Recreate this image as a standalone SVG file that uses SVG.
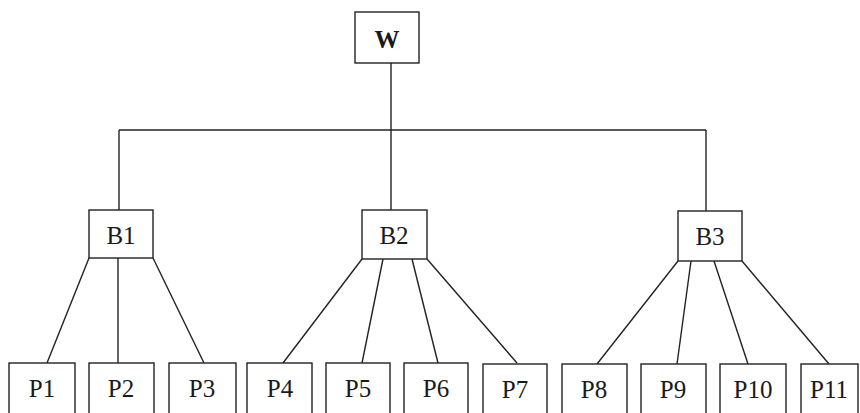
<svg xmlns="http://www.w3.org/2000/svg" width="860" height="413" viewBox="0 0 860 413">
<style>
rect{fill:#fff;stroke:#222;stroke-width:1.4}
line{stroke:#222;stroke-width:1.4}
text{font-family:"Liberation Serif","Times New Roman",serif;font-size:25px;fill:#1a1a1a;text-anchor:middle;dominant-baseline:central}
</style>
<rect x="0" y="0" width="860" height="413" style="fill:#fff;stroke:none"/>
<g id="connectors">
<line x1="391" y1="63" x2="391" y2="210"/>
<line x1="119" y1="130" x2="706" y2="130"/>
<line x1="119" y1="130" x2="119" y2="210"/>
<line x1="706" y1="130" x2="706" y2="211"/>
<line x1="89" y1="258" x2="47" y2="363"/>
<line x1="118" y1="258" x2="118" y2="363"/>
<line x1="153" y1="258" x2="204" y2="363"/>
<line x1="362" y1="259" x2="283" y2="363"/>
<line x1="383" y1="259" x2="362" y2="363"/>
<line x1="412" y1="259" x2="438" y2="363"/>
<line x1="427" y1="259" x2="517" y2="363"/>
<line x1="678" y1="261" x2="597" y2="364"/>
<line x1="691" y1="261" x2="677" y2="364"/>
<line x1="714" y1="261" x2="748" y2="364"/>
<line x1="742" y1="261" x2="829" y2="364"/>
</g>
<g id="W"><rect x="355" y="12" width="64" height="51"/><text x="387" y="39" font-weight="bold">W</text></g>
<g id="B1"><rect x="89" y="210" width="64" height="48"/><text x="121" y="235">B1</text></g>
<g id="B2"><rect x="362" y="210" width="65" height="49"/><text x="394" y="235">B2</text></g>
<g id="B3"><rect x="678" y="211" width="64" height="50"/><text x="710" y="236">B3</text></g>
<g id="P1"><rect x="9" y="363" width="66" height="60"/><text x="42" y="388">P1</text></g>
<g id="P2"><rect x="89" y="363" width="65" height="60"/><text x="121" y="388">P2</text></g>
<g id="P3"><rect x="169" y="363" width="67" height="60"/><text x="202" y="388">P3</text></g>
<g id="P4"><rect x="247" y="363" width="65" height="60"/><text x="280" y="388">P4</text></g>
<g id="P5"><rect x="326" y="363" width="64" height="60"/><text x="358" y="388">P5</text></g>
<g id="P6"><rect x="404" y="363" width="64" height="60"/><text x="436" y="388">P6</text></g>
<g id="P7"><rect x="483" y="364" width="64" height="60"/><text x="515" y="389">P7</text></g>
<g id="P8"><rect x="562" y="364" width="65" height="60"/><text x="594" y="389">P8</text></g>
<g id="P9"><rect x="641" y="364" width="65" height="60"/><text x="673" y="389">P9</text></g>
<g id="P10"><rect x="720" y="364" width="66" height="60"/><text x="753" y="389">P10</text></g>
<g id="P11"><rect x="801" y="364" width="57" height="60"/><text x="829" y="389">P11</text></g>
</svg>
